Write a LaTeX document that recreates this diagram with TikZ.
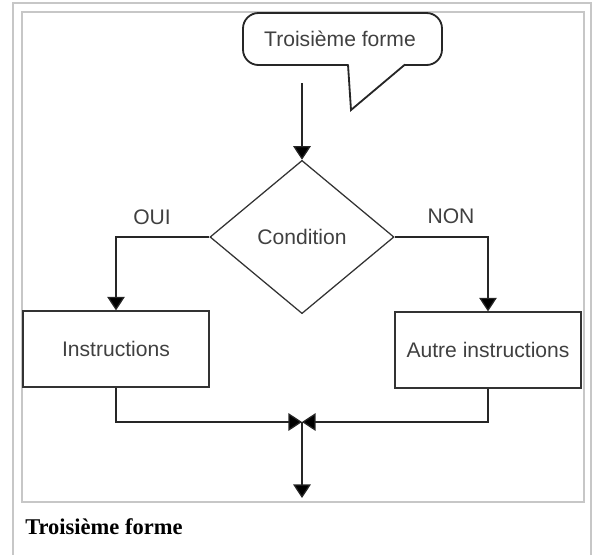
\documentclass[tikz,border=0pt]{standalone}
\usepackage{fontspec}
\setmainfont{Liberation Serif}
\setsansfont{Liberation Sans}
\usepackage{tikz}
\usetikzlibrary{positioning, shapes.geometric, arrows.meta}

\tikzset{
  texte/.style={font=\sffamily\fontsize{15}{18}\selectfont, text=black!75},
  boite/.style={texte, draw=black!80, line width=0.9pt, minimum width=4.65cm, minimum height=1.9cm, inner sep=0pt},
  losange/.style={texte, draw=black!80, line width=0.9pt, diamond, minimum width=4.6cm, minimum height=3.83cm, inner sep=0pt},
  fleche/.style={draw=black!85, line width=0.9pt, -{Triangle[length=0.34cm, width=0.44cm, fill=black]}},
  cadre/.style={draw=black!22, line width=1.4pt},
}

\begin{document}
\begin{tikzpicture}[x=0.025cm, y=-0.025cm]
  \useasboundingbox (0,0) rectangle (595,555);
  % cadres
  \draw [cadre] (13,556) -- (13,3) -- (591,3) -- (591,556);
  \draw [cadre, line width=0.8pt] (22,12) rectangle (584,502);

  % bulle du titre
  \node [texte] (titre) at (340,39) {Troisième forme};
  \draw [black!85, line width=1.3pt, rounded corners=11] (348,65) -- (243,65) -- (243,13) -- (442,13) -- (442,65) -- (405,65);
  \draw [black!85, line width=1.3pt, line join=miter] (348,64.5) -- (351,110) -- (405,64.5);

  \coordinate (depart) at (302,83);
  \node [losange] (cond) at (302,237) {Condition};
  \node [boite] (instr) at (116,349) {Instructions};
  \node [boite] (autre) at (488,350) {Autre instructions};
  \node [texte] (oui) at (152,217) {OUI};
  \node [texte] (non) at (451,216) {NON};
  \coordinate (jonction) at (302,422);
  \coordinate (sortie) at (302,498);

  \draw [fleche] (depart) -- (cond.north);
  \draw [fleche] (cond.west) -| (instr.north);
  \draw [fleche] (cond.east) -| (autre.north);
  \draw [fleche] (instr.south) |- (jonction);
  \draw [fleche] (autre.south) |- (jonction);
  \draw [fleche] (jonction) -- (sortie);

  % legende
  \node [anchor=base west, inner sep=0pt, font=\bfseries\fontsize{16}{19}\selectfont] (legende) at (25,534) {Troisième forme};
\end{tikzpicture}
\end{document}
